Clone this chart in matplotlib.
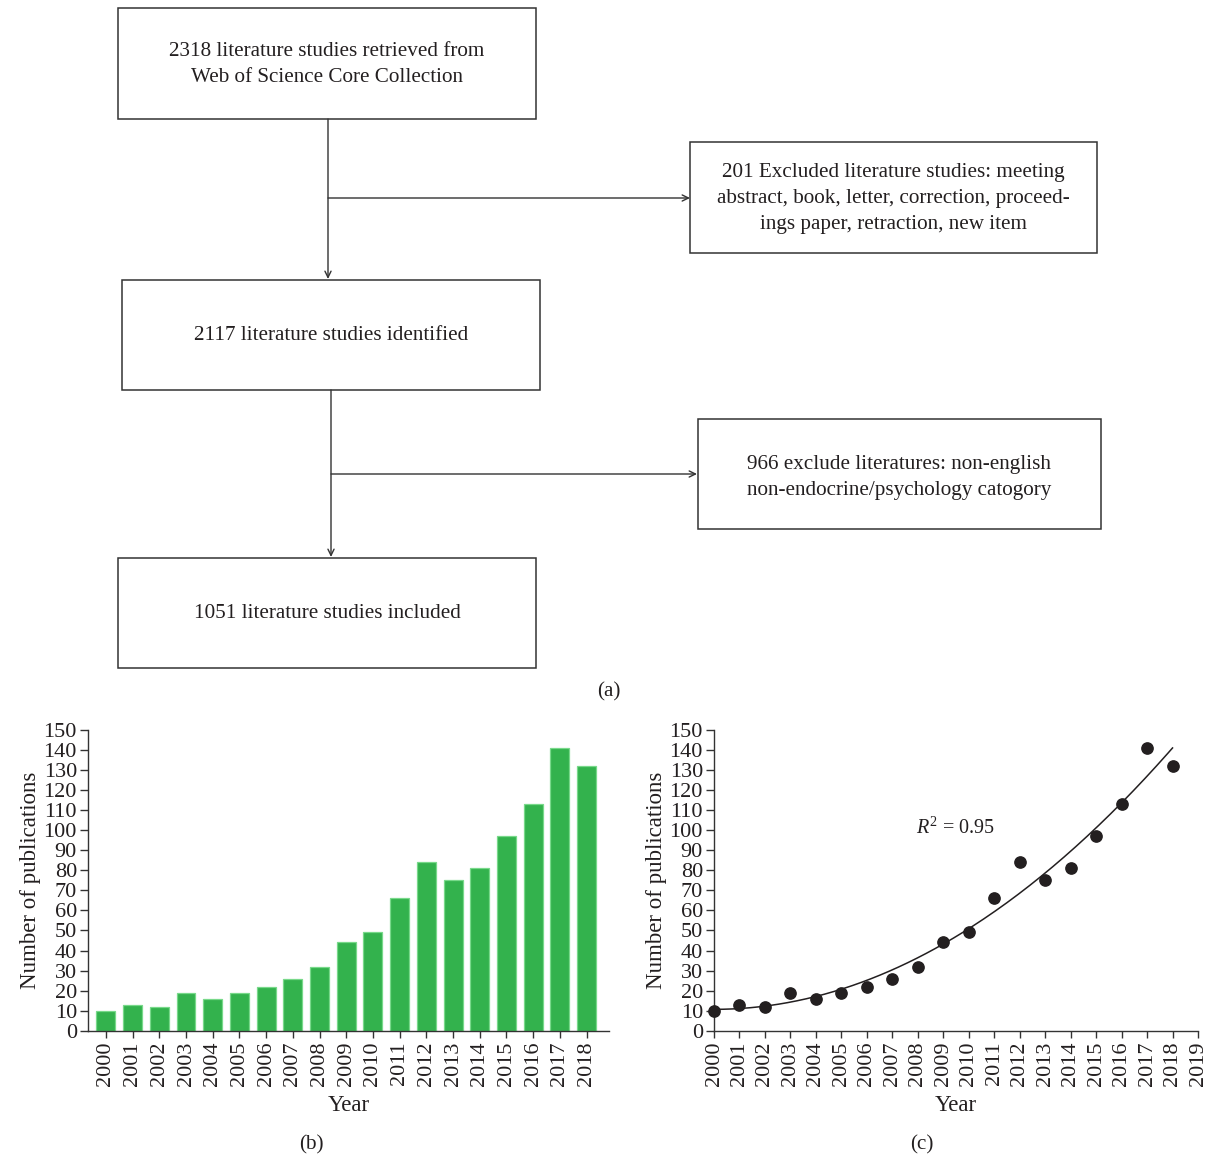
import numpy as np
import matplotlib
matplotlib.use("Agg")
import matplotlib.pyplot as plt
from matplotlib.patches import Rectangle

plt.rcParams['font.family'] = ['Liberation Serif', 'DejaVu Serif']
plt.rcParams['mathtext.fontset'] = 'custom'
plt.rcParams['mathtext.rm'] = 'Liberation Serif'
plt.rcParams['mathtext.it'] = 'Liberation Serif:italic'

# ---------------- data ----------------
years = [2000, 2001, 2002, 2003, 2004, 2005, 2006, 2007, 2008, 2009,
         2010, 2011, 2012, 2013, 2014, 2015, 2016, 2017, 2018]
publications = [10, 13, 12, 19, 16, 19, 22, 26, 32, 44,
                49, 66, 84, 75, 81, 97, 113, 141, 132]
scatter_xticks = list(range(2000, 2020))
y_ticks = list(range(0, 151, 10))
r2_text = r"$R^2$ = 0.95"

box_texts = [
    "2318 literature studies retrieved from\nWeb of Science Core Collection",
    "201 Excluded literature studies: meeting\nabstract, book, letter, correction, proceed-\nings paper, retraction, new item",
    "2117 literature studies identified",
    "966 exclude literatures: non-english\nnon-endocrine/psychology catogory",
    "1051 literature studies included",
]

W, H = 1210, 1159
fig = plt.figure(figsize=(W / 100, H / 100), dpi=100)
FS_FLOW = 15.2
FS_TICK = 16
FS_LAB = 16.5
LC = '#333333'
TC = '#231f20'

# ---------------- (a) flowchart ----------------
fa = fig.add_axes([0, 0, 1, 1])
fa.set_xlim(0, W)
fa.set_ylim(H, 0)
fa.axis('off')

boxes = [(118, 8, 536, 119), (690, 142, 1097, 253), (122, 280, 540, 390),
         (698, 419, 1101, 529), (118, 558, 536, 668)]
text_centers = [(327, 64), (893, 198), (331, 335), (899, 477), (327, 614)]
for (x0, y0, x1, y1), (cx, cy), t in zip(boxes, text_centers, box_texts):
    fa.add_patch(Rectangle((x0, y0), x1 - x0, y1 - y0, fill=False,
                           edgecolor=LC, linewidth=1.1))
    fa.text(cx, cy, t, ha='center', va='center', fontsize=FS_FLOW,
            linespacing=1.5, color=TC)

arrow_kw = dict(arrowstyle='->,head_length=0.45,head_width=0.22', color=LC,
                lw=1.0, shrinkA=0, shrinkB=0)
# first stage
fa.annotate('', xy=(328, 279), xytext=(328, 119), arrowprops=arrow_kw)
fa.annotate('', xy=(690, 198), xytext=(328, 198), arrowprops=arrow_kw)
# second stage
fa.annotate('', xy=(331, 557), xytext=(331, 390), arrowprops=arrow_kw)
fa.annotate('', xy=(697, 474), xytext=(331, 474), arrowprops=arrow_kw)

fa.text(609, 692, '(a)', ha='center', va='center', fontsize=FS_FLOW, color=TC)
fa.text(311, 1145, '(b)', ha='center', va='center', fontsize=FS_FLOW, color=TC)
fa.text(922, 1145, '(c)', ha='center', va='center', fontsize=FS_FLOW, color=TC)


def style_axes(ax):
    ax.spines['top'].set_visible(False)
    ax.spines['right'].set_visible(False)
    for s in ('left', 'bottom'):
        ax.spines[s].set_color(LC)
        ax.spines[s].set_linewidth(1.0)
    ax.set_ylim(0, 150)
    ax.set_yticks(y_ticks)
    ax.tick_params(axis='y', direction='out', length=6, width=1.0,
                   color=LC, labelsize=FS_TICK, pad=2, labelcolor=TC)
    ax.tick_params(axis='x', direction='out', length=5, width=1.0,
                   color=LC, labelsize=FS_TICK, pad=3, labelrotation=90,
                   labelcolor=TC)
    ax.set_ylabel('Number of publications', fontsize=FS_LAB, labelpad=2,
                  color=TC)
    ax.set_xlabel('Year', fontsize=FS_LAB, labelpad=6, color=TC)
    ax.patch.set_alpha(0)


# ---------------- (b) bar chart ----------------
bot = 1 - 1030.7 / H
top = 1 - 730 / H
axb = fig.add_axes([88 / W, bot, (609 - 88) / W, top - bot])
axb.bar(years, publications, width=0.71, color='#33b24d',
        edgecolor='#78d98a', linewidth=0.9)
axb.set_xlim(2000 - 0.67, 2018 + 0.84)
axb.set_xticks(years)
axb.set_xticklabels([str(y) for y in years])
style_axes(axb)

# ---------------- (c) scatter with quadratic trend ----------------
axc = fig.add_axes([714 / W, bot, (1198 - 714) / W, top - bot])
coef = np.polyfit(np.array(years) - 2000, publications, 2)
xx = np.linspace(0, 18, 200)
axc.plot(xx + 2000, np.polyval(coef, xx), color=TC, lw=1.1, zorder=2)
axc.scatter(years, publications, s=66, color=TC, zorder=3, clip_on=False)
axc.set_xlim(2000, 2019)
axc.set_xticks(scatter_xticks)
axc.set_xticklabels([str(y) for y in scatter_xticks])
axc.text(2009.5, 101, r2_text, ha='center', va='center', fontsize=14.5,
         color=TC)
style_axes(axc)

fig.savefig('out.png', dpi=100)
